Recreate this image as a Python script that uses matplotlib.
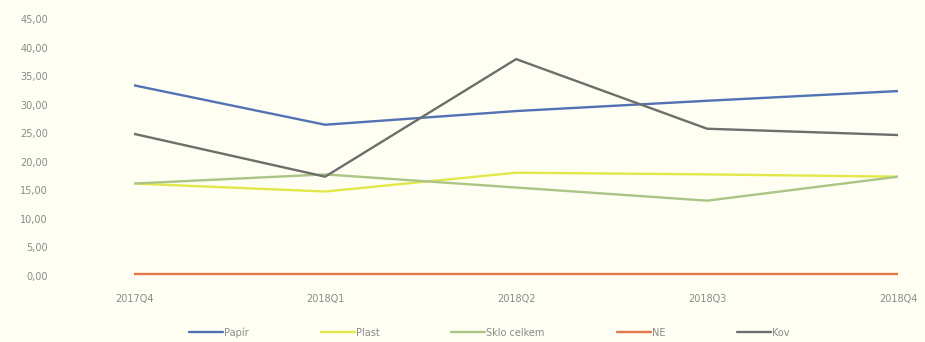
import matplotlib.pyplot as plt
from matplotlib.ticker import FuncFormatter

quarters = ["2017Q4", "2018Q1", "2018Q2", "2018Q3", "2018Q4"]
papir = [33.4, 26.5, 28.9, 30.7, 32.4]
plast = [16.2, 14.8, 18.1, 17.8, 17.4]
sklo = [16.2, 17.8, 15.5, 13.2, 17.4]
ne = [0.3, 0.3, 0.3, 0.3, 0.3]
kov = [24.9, 17.4, 38.0, 25.8, 24.7]

series = [
    ("Papír", papir, "#5272b4"),
    ("Plast", plast, "#e2e84a"),
    ("Sklo celkem", sklo, "#abc585"),
    ("NE", ne, "#e0764a"),
    ("Kov", kov, "#6e6e6a"),
]

bg = "#fefef3"
fig = plt.figure(figsize=(9.25, 3.42), dpi=100, facecolor=bg)
ax = fig.add_axes([0.145, 0.193, 0.826, 0.751], facecolor=bg)

x = list(range(len(quarters)))
for name, vals, col in series:
    ax.plot(x, vals, color=col, lw=1.7, label=name, solid_capstyle="round")

ax.set_xlim(0, len(quarters) - 1)
ax.set_ylim(0, 45)
ax.set_yticks(range(0, 46, 5))
ax.yaxis.set_major_formatter(FuncFormatter(lambda v, p: f"{v:.2f}".replace(".", ",")))
ax.set_xticks(x)
ax.set_xticklabels(quarters)
for s in ax.spines.values():
    s.set_visible(False)
ax.tick_params(length=0, labelsize=7, colors="#8a8a8a", pad=13)
ax.tick_params(axis="y", pad=62)

ax.legend(loc="upper center", bbox_to_anchor=(0.465, -0.165), ncol=5, frameon=False,
          fontsize=7, labelcolor="#8a8a8a", handlelength=3.5, handletextpad=0.1,
          columnspacing=7.4)

fig.savefig("out.png", dpi=100, facecolor=bg)
